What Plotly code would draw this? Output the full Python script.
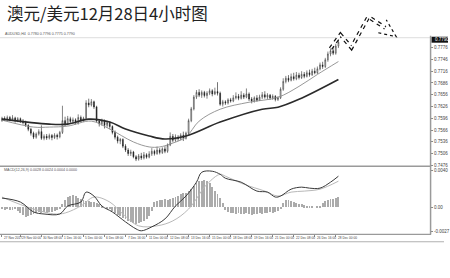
import plotly.graph_objects as go

W, H = 450, 278

title_text = "澳元/美元12月28日4小时图"
header_text = "AUDUSD,H4  0.7780 0.7796 0.7775 0.7790"
macd_header = "MACD(12,26,9) 0.0028 0.0024 0.0004 0.0000"

opens = [.7590,.7596,.7593,.7598,.7592,.7597,.7590,.7595,.7589,.7585,.7578,.7568,.7558,.7548,.7556,.7562,.7545,.7550,.7546,.7552,
         .7547,.7553,.7549,.7560,.7590,.7582,.7595,.7588,.7592,.7585,.7598,.7590,.7596,.7635,.7630,.7638,.7625,.7589,.7582,.7590,
         .7578,.7585,.7575,.7560,.7548,.7538,.7542,.7525,.7515,.7506,.7510,.7498,.7492,.7500,.7495,.7503,.7497,.7505,.7512,.7506,
         .7515,.7509,.7518,.7512,.7528,.7550,.7540,.7548,.7544,.7553,.7545,.7558,.7590,.7620,.7650,.7662,.7655,.7662,.7654,.7660,
         .7666,.7658,.7664,.7660,.7632,.7638,.7635,.7643,.7640,.7648,.7652,.7647,.7655,.7650,.7658,.7645,.7640,.7648,.7642,.7650,
         .7656,.7650,.7655,.7648,.7652,.7644,.7648,.7670,.7690,.7698,.7693,.7702,.7697,.7706,.7700,.7708,.7703,.7712,.7707,.7716,
         .7712,.7722,.7732,.7728,.7745,.7760,.7768,.7762,.7780]
highs = [.7600,.7601,.7603,.7602,.7604,.7600,.7599,.7598,.7594,.7590,.7581,.7572,.7562,.7560,.7568,.7578,.7555,.7556,.7557,.7556,
         .7558,.7557,.7564,.7628,.7600,.7602,.7600,.7598,.7596,.7606,.7603,.7600,.7642,.7646,.7645,.7641,.7628,.7594,.7595,.7593,
         .7590,.7588,.7578,.7565,.7552,.7546,.7545,.7530,.7520,.7516,.7513,.7502,.7505,.7508,.7510,.7507,.7512,.7520,.7516,.7524,
         .7520,.7522,.7525,.7532,.7560,.7556,.7555,.7553,.7558,.7562,.7562,.7595,.7625,.7655,.7668,.7670,.7667,.7666,.7665,.7672,
         .7670,.7674,.7688,.7664,.7643,.7642,.7647,.7648,.7655,.7662,.7658,.7665,.7660,.7672,.7662,.7650,.7652,.7655,.7656,.7663,
         .7665,.7660,.7658,.7657,.7655,.7652,.7675,.7698,.7704,.7706,.7710,.7712,.7714,.7712,.7716,.7714,.7718,.7720,.7722,.7725,
         .7728,.7738,.7740,.7750,.7766,.7776,.7778,.7786,.7796]
lows = [.7587,.7589,.7590,.7588,.7589,.7585,.7586,.7584,.7580,.7574,.7563,.7552,.7543,.7544,.7552,.7541,.7540,.7541,.7542,.7540,
        .7543,.7542,.7545,.7556,.7576,.7578,.7583,.7584,.7580,.7580,.7586,.7587,.7592,.7624,.7626,.7620,.7585,.7575,.7577,.7570,
        .7572,.7568,.7555,.7542,.7532,.7530,.7520,.7510,.7500,.7500,.7494,.7487,.7488,.7490,.7491,.7493,.7494,.7500,.7501,.7503,
        .7504,.7505,.7507,.7508,.7525,.7535,.7536,.7538,.7540,.7538,.7542,.7555,.7586,.7616,.7645,.7650,.7648,.7649,.7646,.7655,
        .7652,.7655,.7654,.7628,.7626,.7630,.7631,.7636,.7637,.7644,.7642,.7644,.7645,.7647,.7640,.7634,.7636,.7638,.7640,.7645,
        .7646,.7645,.7643,.7643,.7639,.7640,.7645,.7666,.7685,.7688,.7690,.7692,.7693,.7695,.7696,.7698,.7700,.7702,.7704,.7708,
        .7709,.7718,.7722,.7724,.7740,.7754,.7757,.7758,.7775]
closes = [.7596,.7593,.7598,.7592,.7597,.7590,.7595,.7589,.7585,.7578,.7568,.7558,.7548,.7556,.7562,.7545,.7550,.7546,.7552,.7547,
          .7553,.7549,.7560,.7590,.7582,.7595,.7588,.7592,.7585,.7598,.7590,.7596,.7635,.7630,.7638,.7625,.7589,.7582,.7590,.7578,
          .7585,.7575,.7560,.7548,.7538,.7542,.7525,.7515,.7506,.7510,.7498,.7492,.7500,.7495,.7503,.7497,.7505,.7512,.7506,.7515,
          .7509,.7518,.7512,.7528,.7550,.7540,.7548,.7544,.7553,.7545,.7558,.7590,.7620,.7650,.7662,.7655,.7662,.7654,.7660,.7666,
          .7658,.7664,.7660,.7632,.7638,.7635,.7643,.7640,.7648,.7652,.7647,.7655,.7650,.7658,.7645,.7640,.7648,.7642,.7650,.7656,
          .7650,.7655,.7648,.7652,.7644,.7648,.7670,.7690,.7698,.7693,.7702,.7697,.7706,.7700,.7708,.7703,.7712,.7707,.7716,.7712,
          .7722,.7732,.7728,.7745,.7760,.7768,.7762,.7780,.7790]
bars = list(range(len(closes)))

fast_ma_idx = [0, 12, 18, 25, 34, 41, 50, 56, 60, 64, 70, 75, 83, 94, 105, 113, 120, 128]
fast_ma = [.75913, .75736, .75736, .75761, .75888, .75685, .75357, .7523, .7523, .75306, .75483, .75888, .76191, .76369, .76495, .76773, .77077, .77406]
slow_ma_idx = [0, 18, 25, 33, 41, 47, 56, 62, 70, 83, 99, 105, 113, 128]
slow_ma = [.75938, .75812, .75812, .75938, .75863, .75685, .75508, .75432, .75508, .75863, .76191, .76242, .76444, .7695]

macd_idx = [0, 7, 12, 16, 22, 25, 30, 32, 35, 38, 42, 47, 51, 53, 57, 62, 66, 70, 74, 76, 80, 83, 85, 91, 97, 101, 104, 106, 110, 114, 117, 121, 125, 128]
macd_main = [9.7, 5.4, -5.4, -7.6, -7.6, 1.1, 5.4, 16.2, 11.9, 1.1, -5.4, -16.2, -23.8, -25.9, -21.6, -13, 1.1, 11.9, 27, 37.8, 38.9, 35.6, 31.3, 27, 17.3, 16.2, 10.8, 11.9, 19.4, 21.6, 20.5, 20.5, 27, 33.5]
signal_idx = [0, 12, 22, 30, 35, 41, 46, 52, 59, 65, 71, 78, 83, 85, 92, 100, 105, 110, 115, 121, 128]
macd_signal = [10.8, -2.2, -7.6, 1.1, 10.8, 5.4, -7.6, -20.5, -20.5, -15.1, -2.2, 24.8, 35.6, 33.5, 24.8, 17.3, 11.9, 16.2, 17.3, 19.4, 28.1]
macd_hist = [-2,-3,-2,-3,-3,-2,-4,
             -6,-9,-11,-10,-8,-7,
             -6,-5,-6,-5,-6,-5,-5,-4,-3,
             -1,
             4,8,11,12,13,12,10,9,
             8,7,7,6,6,5,
             3,1,0,-1,-2,
             -4,-6,-8,-10,-12,-13,-15,-16,-17,-18,-17,-16,-15,-13,
             -10,-4,
             6,7,8,8,9,8,9,10,
             11,12,14,15,16,
             18,20,23,26,28,29,30,28,
             26,22,18,14,10,5,
             -3,-5,-6,-6,-7,-6,-7,-7,-6,-7,-8,-7,-7,-6,-7,-6,-6,-5,-6,-5,-4,-2,
             5,8,8,7,6,5,4,3,2,1,
             1,1,0,1,1,
             5,7,8,9,9,10,11]

price_ticks = [0.7776, 0.7746, 0.7716, 0.7686, 0.7656, 0.7626, 0.7596, 0.7566, 0.7536, 0.7506, 0.7476]
price_tick_text = ["0.7776", "0.7746", "0.7716", "0.7686", "0.7656", "0.7626", "0.7596", "0.7566", "0.7536", "0.7506", "0.7476"]
last_price_text = "0.7790"
macd_ticks = [0.0040, 0.0, -0.0027]
macd_tick_text = ["0.0040", "0.00", "-0.0027"]

date_idx = [0, 7, 15, 23, 31, 39, 47, 55, 63, 71, 79, 87, 95, 103, 111, 119, 127]
date_labels = ["27 Nov 2017", "29 Nov 00:00", "30 Nov 08:00", "1 Dec 16:00", "5 Dec 00:00", "6 Dec 08:00",
               "7 Dec 16:00", "11 Dec 00:00", "12 Dec 08:00", "13 Dec 16:00", "15 Dec 00:00", "18 Dec 08:00",
               "19 Dec 16:00", "21 Dec 00:00", "22 Dec 08:00", "26 Dec 16:00", "28 Dec 00:00"]

# hand-drawn forecast zigzag (pixel positions of the sketch)
zig_x = [332, 342, 353, 370, 387]
zig_y = [49, 35, 48, 17, 28]


def px(x):
    return x / W


def py(y):
    return 1 - y / H


def price_at(y):
    return 0.7776 - (y - 48) * 0.000253


def macd_at(y):
    return (208.5 - y) * 0.000108


X_RANGE = [(0 - 2) / 2.64, (432 - 2) / 2.64]

fig = go.Figure()

fig.add_trace(go.Candlestick(
    x=bars, open=opens, high=highs, low=lows, close=closes,
    increasing=dict(line=dict(color="#333333", width=0.6), fillcolor="#ffffff"),
    decreasing=dict(line=dict(color="#1a1a1a", width=0.6), fillcolor="#1a1a1a"),
    whiskerwidth=0, xaxis="x", yaxis="y", showlegend=False, hoverinfo="skip"))

fig.add_trace(go.Scatter(x=fast_ma_idx, y=fast_ma, mode="lines", line=dict(color="#8c8c8c", width=0.9, shape="spline"),
                         xaxis="x", yaxis="y", showlegend=False, hoverinfo="skip"))
fig.add_trace(go.Scatter(x=slow_ma_idx, y=slow_ma, mode="lines", line=dict(color="#2b2b2b", width=1.6, shape="spline"),
                         xaxis="x", yaxis="y", showlegend=False, hoverinfo="skip"))

fig.add_trace(go.Bar(x=bars, y=[v * 1e-4 for v in macd_hist], marker=dict(color="#ababab", line=dict(width=0)),
                     width=0.35, xaxis="x2", yaxis="y2", showlegend=False, hoverinfo="skip"))
fig.add_trace(go.Scatter(x=signal_idx, y=[v * 1e-4 for v in macd_signal], mode="lines",
                         line=dict(color="#b8b8b8", width=1, shape="spline"),
                         xaxis="x2", yaxis="y2", showlegend=False, hoverinfo="skip"))
fig.add_trace(go.Scatter(x=macd_idx, y=[v * 1e-4 for v in macd_main], mode="lines",
                         line=dict(color="#3a3a3a", width=1, shape="spline"),
                         xaxis="x2", yaxis="y2", showlegend=False, hoverinfo="skip"))

tickfont = dict(family="Liberation Sans", size=4.5, color="#444444")

fig.update_layout(
    width=W, height=H, margin=dict(l=0, r=0, t=0, b=0),
    paper_bgcolor="white", plot_bgcolor="white",
    bargap=0, barmode="relative", boxgap=0.55,
    xaxis=dict(domain=[0, px(432)], range=X_RANGE, showgrid=False, zeroline=False, showticklabels=False,
               rangeslider=dict(visible=False), anchor="y", fixedrange=True, showline=False),
    yaxis=dict(domain=[py(167), py(38)], range=[price_at(167), price_at(38)], side="right", anchor="x",
               tickvals=price_ticks, ticktext=price_tick_text, tickfont=tickfont, ticks="outside", ticklen=2,
               tickcolor="#888888", showgrid=False, zeroline=False, showline=False),
    xaxis2=dict(domain=[0, px(432)], range=X_RANGE, showgrid=False, zeroline=False, showticklabels=False,
                anchor="y2", matches="x", tickvals=date_idx, ticks="outside", ticklen=2, tickcolor="#888888"),
    yaxis2=dict(domain=[py(236), py(168)], range=[macd_at(236), macd_at(168)], side="right", anchor="x2",
                tickvals=macd_ticks, ticktext=macd_tick_text, tickfont=tickfont, ticks="outside", ticklen=2,
                tickcolor="#888888", showgrid=False, zeroline=False, showline=False),
)

shapes = []
line_gray = "#9a9a9a"
# frame lines
shapes.append(dict(type="line", xref="paper", yref="paper", x0=0, x1=px(432), y0=py(38), y1=py(38),
                   line=dict(color="#dddddd", width=1)))
shapes.append(dict(type="line", xref="paper", yref="paper", x0=0, x1=px(433), y0=py(167.5), y1=py(167.5),
                   line=dict(color=line_gray, width=1.5)))
shapes.append(dict(type="line", xref="paper", yref="paper", x0=0, x1=px(433), y0=py(236), y1=py(236),
                   line=dict(color=line_gray, width=1.2)))
shapes.append(dict(type="line", xref="paper", yref="paper", x0=px(432.5), x1=px(432.5), y0=py(36), y1=py(236),
                   line=dict(color=line_gray, width=1.5)))
shapes.append(dict(type="line", xref="paper", yref="paper", x0=0, x1=px(446), y0=py(243.5), y1=py(243.5),
                   line=dict(color="#b0b0b0", width=1.2)))
# current price box
shapes.append(dict(type="rect", xref="paper", yref="paper", x0=px(433.5), x1=px(450), y0=py(43), y1=py(37),
                   fillcolor="#111111", line=dict(width=0)))

# hand-drawn arrow: outlined dotted path
zig_path = "M " + " L ".join(f"{px(x)},{py(y)}" for x, y in zip(zig_x, zig_y))
head_path = f"M {px(380)},{py(33)} L {px(398)},{py(37)} L {px(388)},{py(20)}"
shapes.append(dict(type="path", xref="paper", yref="paper", path=zig_path,
                   line=dict(color="#111111", width=4, dash="dot")))
shapes.append(dict(type="path", xref="paper", yref="paper", path=zig_path,
                   line=dict(color="#ffffff", width=1.6)))
shapes.append(dict(type="path", xref="paper", yref="paper", path=head_path,
                   line=dict(color="#111111", width=1.2, dash="dot")))
fig.update_layout(shapes=shapes)

ann = []
ann.append(dict(text=title_text, xref="paper", yref="paper", x=px(5), y=py(13.5), xanchor="left", yanchor="middle",
                showarrow=False, font=dict(family="Noto Sans CJK SC", size=16.5, color="#222222")))
ann.append(dict(text=header_text, xref="paper", yref="paper", x=px(3), y=py(34.5), xanchor="left", yanchor="middle",
                showarrow=False, font=dict(family="Liberation Sans", size=3.6, color="#555555")))
ann.append(dict(text=macd_header, xref="paper", yref="paper", x=px(2), y=py(171.5), xanchor="left", yanchor="middle",
                showarrow=False, font=dict(family="Liberation Sans", size=3.6, color="#555555")))
ann.append(dict(text=last_price_text, xref="paper", yref="paper", x=px(435), y=py(40), xanchor="left", yanchor="middle",
                showarrow=False, font=dict(family="Liberation Sans", size=4.5, color="#ffffff")))
for i, lab in zip(date_idx, date_labels):
    ann.append(dict(text=lab, xref="x2", yref="paper", x=i, y=py(239.5), xanchor="left", yanchor="middle",
                    showarrow=False, font=dict(family="Liberation Sans", size=3.2, color="#444444")))
fig.update_layout(annotations=ann)

fig.write_html("out.html")
